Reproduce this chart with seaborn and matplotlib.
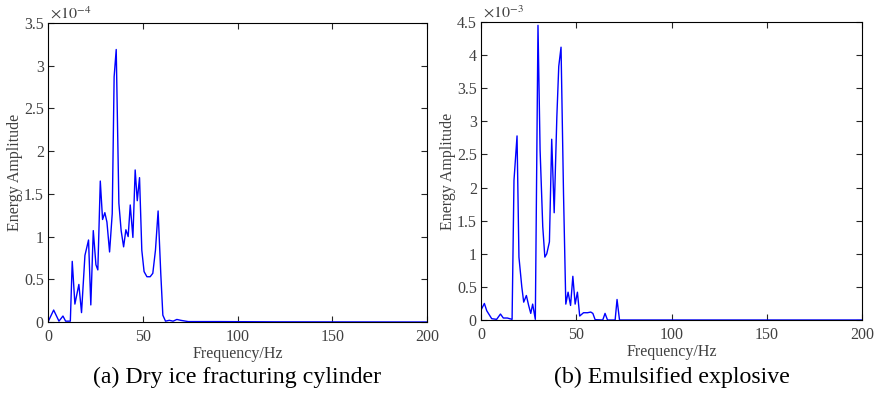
import numpy as np
import pandas as pd
import seaborn as sns
import matplotlib
matplotlib.use("Agg")
import matplotlib.pyplot as plt
from matplotlib.ticker import FuncFormatter, MultipleLocator

# (a) dry ice fracturing cylinder, amplitude in units of 1e-4
freq_a = [0, 3.0, 5.8, 7.9, 9.3, 11.8, 12.8, 14.2, 16.3, 17.7, 19.5, 21.4, 22.6, 23.9,
          25.3, 26.3, 27.6, 28.8, 30.0, 31.1, 32.5, 33.9, 34.9, 36.0, 37.4, 38.6, 39.9,
          41.1, 42.3, 43.4, 44.8, 46.0, 47.1, 48.3, 49.5, 50.7, 52.2, 53.9, 55.3, 56.7,
          58.1, 59.5, 60.6, 62.0, 64, 66, 68, 70, 74, 90, 120, 200]
amp_a = [0, 0.14, 0.01, 0.07, 0.01, 0.01, 0.71, 0.21, 0.44, 0.11, 0.78, 0.96, 0.20, 1.07,
         0.67, 0.61, 1.65, 1.20, 1.28, 1.17, 0.82, 1.27, 2.87, 3.19, 1.39, 1.07, 0.88,
         1.08, 1.00, 1.37, 0.99, 1.78, 1.42, 1.69, 0.84, 0.59, 0.53, 0.53, 0.57, 0.84,
         1.30, 0.57, 0.08, 0.01, 0.02, 0.01, 0.03, 0.02, 0.005, 0.005, 0.002, 0]

# (b) emulsified explosive, amplitude in units of 1e-3
freq_b = [0, 1.75, 3.0, 5.6, 8.2, 10.2, 11.7, 13.8, 16.3, 17.3, 18.9, 19.9, 21.4, 22.4,
          23.8, 25.0, 26.1, 27.1, 28.5, 29.9, 31.0, 32.4, 33.5, 34.5, 35.9, 37.1, 38.4,
          39.8, 40.8, 42.0, 43.3, 44.5, 45.7, 47.0, 48.2, 49.4, 50.6, 51.8, 53.8, 55.9,
          57.6, 58.7, 59.9, 63.9, 65.1, 66.4, 70.4, 71.4, 72.7, 80, 200]
amp_b = [0.15, 0.25, 0.14, 0.02, 0.01, 0.09, 0.03, 0.03, 0.01, 2.11, 2.78, 0.95, 0.50, 0.27,
         0.37, 0.22, 0.10, 0.24, 0.01, 4.45, 2.57, 1.41, 0.95, 1.00, 1.18, 2.73, 1.62,
         3.07, 3.83, 4.12, 1.91, 0.24, 0.42, 0.22, 0.66, 0.24, 0.42, 0.06, 0.11, 0.11,
         0.12, 0.10, 0.005, 0, 0.10, 0, 0, 0.31, 0, 0, 0]

panels = [
    (freq_a, amp_a, 3.5, r"$\times10^{-4}$", "(a) Dry ice fracturing cylinder"),
    (freq_b, amp_b, 4.5, r"$\times10^{-3}$", "(b) Emulsified explosive"),
]

sns.set_style("ticks")
plt.rcParams["font.family"] = ["Liberation Serif", "DejaVu Serif"]
plt.rcParams["mathtext.fontset"] = "stix"

fig = plt.figure(figsize=(8.77, 3.94), dpi=100)
boxes = [[0.0547, 0.1827, 0.4323, 0.7589], [0.5485, 0.1878, 0.4344, 0.7563]]
gray = "#404040"

for box, (fx, amp, ymax, expo, caption) in zip(boxes, panels):
    ax = fig.add_axes(box)
    df = pd.DataFrame({"freq": fx, "amp": amp})
    sns.lineplot(data=df, x="freq", y="amp", ax=ax, color="#0000FF", lw=1.0)
    ax.set_xlim(0, 200)
    ax.set_ylim(0, ymax)
    ax.xaxis.set_major_locator(MultipleLocator(50))
    ax.yaxis.set_major_locator(MultipleLocator(0.5))
    ax.yaxis.set_major_formatter(FuncFormatter(lambda v, p: "%g" % v))
    ax.tick_params(direction="in", top=True, right=True, length=4, width=0.8,
                   labelsize=11.5, labelcolor=gray)
    ax.tick_params(axis="x", pad=5)
    ax.tick_params(axis="y", pad=3)
    for s in ax.spines.values():
        s.set_linewidth(0.8)
        s.set_color("black")
    ax.set_xlabel("Frequency/Hz", fontsize=11.5, color=gray, labelpad=1)
    ax.set_ylabel("Energy Amplitude", fontsize=11.5, color=gray, labelpad=1)
    ax.text(0.005, 1.0, expo, transform=ax.transAxes, fontsize=11.5, color=gray,
            ha="left", va="bottom")
    cx = box[0] + box[2] / 2
    fig.text(cx, 1 - 377 / 394, caption, fontsize=17.2, ha="center", va="center",
             color="black")

fig.savefig("out.png", dpi=100)
